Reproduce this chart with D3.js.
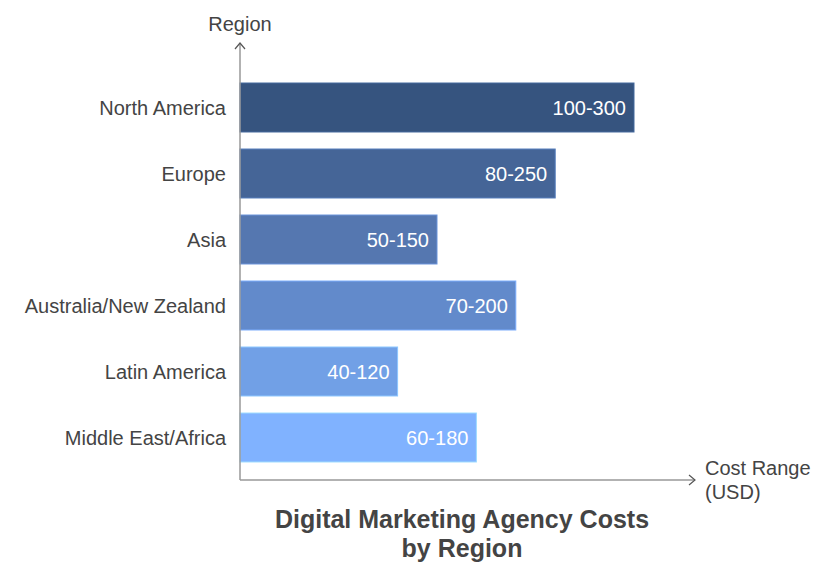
<!DOCTYPE html>
<html>
<head>
<meta charset="utf-8">
<script src="https://cdn.jsdelivr.net/npm/d3@7"></script>
<style>
  body { margin: 0; background: #fff; }
  svg { font-family: "Liberation Sans", Arial, sans-serif; }
</style>
</head>
<body>
<svg id="chart" width="834" height="576"></svg>
<script>
const regions = ["North America", "Europe", "Asia", "Australia/New Zealand", "Latin America", "Middle East/Africa"];
const costLabels = ["100-300", "80-250", "50-150", "70-200", "40-120", "60-180"];
const barValues = [300, 240, 150, 210, 120, 180];
const barColors = ["#36547f", "#456597", "#5577b0", "#628acb", "#71a0e6", "#80b2ff"];
const titleLines = ["Digital Marketing Agency Costs", "by Region"];

const data = regions.map((r, i) => ({ region: r, label: costLabels[i], value: barValues[i], color: barColors[i] }));

const svg = d3.select("#chart");
const x0 = 240, axisY = 480;

const x = d3.scaleLinear().domain([0, 300]).range([x0, 634]);
const y = d3.scaleBand()
    .domain(regions)
    .range([74.5, 470.5])
    .paddingInner(0.258)
    .paddingOuter(0.129);

// bars
svg.selectAll(".bar")
    .data(data)
  .enter().append("rect")
    .attr("class", "bar")
    .attr("x", x(0))
    .attr("y", d => y(d.region))
    .attr("width", d => x(d.value) - x(0))
    .attr("height", y.bandwidth())
    .attr("fill", d => d.color)
    .attr("stroke", d => d3.color(d.color).brighter(0.6))
    .attr("stroke-width", 1);

// value labels
svg.selectAll(".val")
    .data(data)
  .enter().append("text")
    .attr("class", "val")
    .attr("x", d => x(d.value) - 8)
    .attr("y", d => y(d.region) + y.bandwidth() / 2)
    .attr("dy", "0.35em")
    .attr("text-anchor", "end")
    .attr("fill", "#fff")
    .attr("font-size", 20)
    .text(d => d.label);

// category labels
svg.selectAll(".cat")
    .data(data)
  .enter().append("text")
    .attr("class", "cat")
    .attr("x", 226)
    .attr("y", d => y(d.region) + y.bandwidth() / 2)
    .attr("dy", "0.35em")
    .attr("text-anchor", "end")
    .attr("fill", "#444")
    .attr("font-size", 20)
    .text(d => d.region);

// axes with arrows
const axisColor = "#999";
svg.append("line").attr("x1", x0).attr("y1", axisY).attr("x2", x0).attr("y2", 43)
    .attr("stroke", axisColor).attr("stroke-width", 1.5);
svg.append("path").attr("d", `M${x0 - 5},${49} L${x0},${43} L${x0 + 5},${49}`)
    .attr("fill", "none").attr("stroke", "#555").attr("stroke-width", 1.2);
svg.append("line").attr("x1", x0).attr("y1", axisY).attr("x2", 695).attr("y2", axisY)
    .attr("stroke", axisColor).attr("stroke-width", 1.5);
svg.append("path").attr("d", `M${689},${axisY - 5} L${695},${axisY} L${689},${axisY + 5}`)
    .attr("fill", "none").attr("stroke", "#555").attr("stroke-width", 1.2);

// axis titles
svg.append("text").attr("x", x0).attr("y", 31).attr("text-anchor", "middle")
    .attr("fill", "#444").attr("font-size", 20).text("Region");
const xt = svg.append("text").attr("x", 705).attr("y", 475).attr("fill", "#444").attr("font-size", 20);
xt.append("tspan").attr("x", 705).text("Cost Range");
xt.append("tspan").attr("x", 705).attr("dy", 24).text("(USD)");

// title
const t = svg.append("text").attr("x", 462).attr("y", 528).attr("text-anchor", "middle")
    .attr("fill", "#444").attr("font-size", 25).attr("font-weight", "bold");
titleLines.forEach((l, i) => t.append("tspan").attr("x", 462).attr("dy", i ? 29 : 0).text(l));
</script>
</body>
</html>
